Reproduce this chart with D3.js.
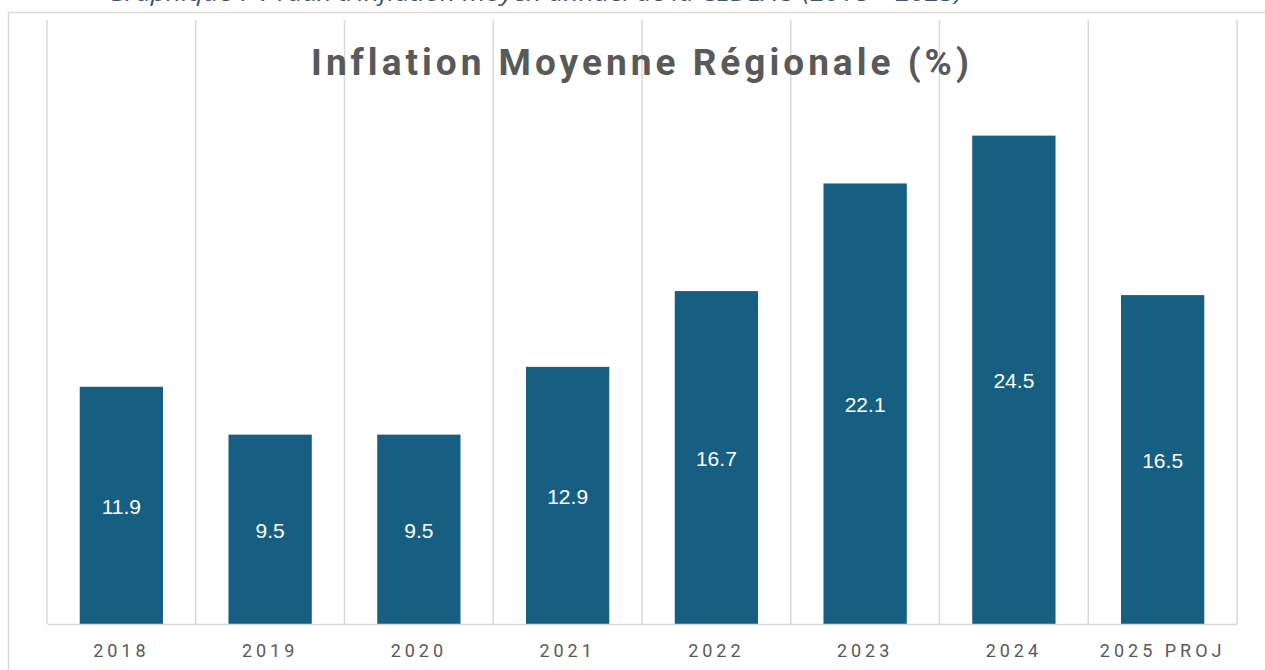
<!DOCTYPE html>
<html>
<head>
<meta charset="utf-8">
<script src="https://cdn.jsdelivr.net/npm/d3@7"></script>
<style>
  body { margin: 0; background: #fff; }
  svg { display: block; }
</style>
</head>
<body>
<div id="chart"></div>
<script>
const years = ['2018', '2019', '2020', '2021', '2022', '2023', '2024', '2025 PROJ'];
const inflation = [11.9, 9.5, 9.5, 12.9, 16.7, 22.1, 24.5, 16.5];
const chartTitle = 'Inflation Moyenne Régionale (%)';
const caption = 'Graphique 7 : Taux d\u2019inflation moyen annuel de la CEDEAO (2018 \u2013 2025)';

const W = 1265;
const H = 670;
const plot = { left: 47, right: 1237, top: 20, bottom: 624 };

const svg = d3.select('#chart')
  .append('svg')
  .attr('width', W)
  .attr('height', H);

// caption cut off by the top edge, as in the source page
svg.append('text')
  .attr('x', 107)
  .attr('y', 1)
  .attr('textLength', 855)
  .attr('lengthAdjust', 'spacingAndGlyphs')
  .style('font-family', 'Open Sans, sans-serif')
  .style('font-style', 'italic')
  .style('font-size', '21px')
  .style('fill', '#44546a')
  .text(caption);

// chart frame
svg.append('path')
  .attr('d', `M8.5,${H} V12.5 H${W}`)
  .attr('fill', 'none')
  .attr('stroke', '#d9d9d9')
  .attr('stroke-width', 1.5);

const x = d3.scaleBand()
  .domain(years)
  .range([plot.left, plot.right])
  .paddingInner(0.44)
  .paddingOuter(0.22);

const y = d3.scaleLinear()
  .domain([0, 30.3])
  .range([plot.bottom, plot.top]);

// vertical gridlines between categories
const step = x.step();
const edges = d3.range(years.length + 1).map((i) => plot.left + i * step);
svg.append('g')
  .selectAll('line')
  .data(edges)
  .enter()
  .append('line')
  .attr('x1', (d) => d)
  .attr('x2', (d) => d)
  .attr('y1', plot.top)
  .attr('y2', plot.bottom)
  .attr('stroke', '#d9d9d9')
  .attr('stroke-width', 1.5);

const data = years.map((year, i) => ({ year, value: inflation[i] }));

svg.append('g')
  .selectAll('rect')
  .data(data)
  .enter()
  .append('rect')
  .attr('x', (d) => x(d.year))
  .attr('y', (d) => y(d.value))
  .attr('width', x.bandwidth())
  .attr('height', (d) => y(0) - y(d.value))
  .attr('fill', '#175f82');

svg.append('g')
  .selectAll('text')
  .data(data)
  .enter()
  .append('text')
  .attr('x', (d) => x(d.year) + x.bandwidth() / 2)
  .attr('y', (d) => (y(d.value) + y(0)) / 2 + 1)
  .attr('text-anchor', 'middle')
  .attr('dominant-baseline', 'central')
  .style('font-family', 'Liberation Sans, Arial, sans-serif')
  .style('font-size', '21px')
  .style('fill', '#ffffff')
  .text((d) => d.value.toFixed(1));

// category axis
const xAxis = svg.append('g')
  .attr('transform', `translate(0,${plot.bottom})`)
  .call(d3.axisBottom(x).tickSize(0).tickPadding(20));
xAxis.select('.domain')
  .attr('stroke', '#d9d9d9')
  .attr('stroke-width', 1.5);
xAxis.selectAll('text')
  .style('font-family', 'Roboto, sans-serif')
  .style('font-size', '18px')
  .style('letter-spacing', '4px')
  .style('fill', '#595959');

svg.append('text')
  .attr('x', (plot.left + plot.right) / 2)
  .attr('y', 75)
  .attr('text-anchor', 'middle')
  .style('font-family', 'Roboto, sans-serif')
  .style('font-weight', 'bold')
  .style('font-size', '37px')
  .style('letter-spacing', '4px')
  .style('fill', '#595959')
  .text(chartTitle);
</script>
</body>
</html>
